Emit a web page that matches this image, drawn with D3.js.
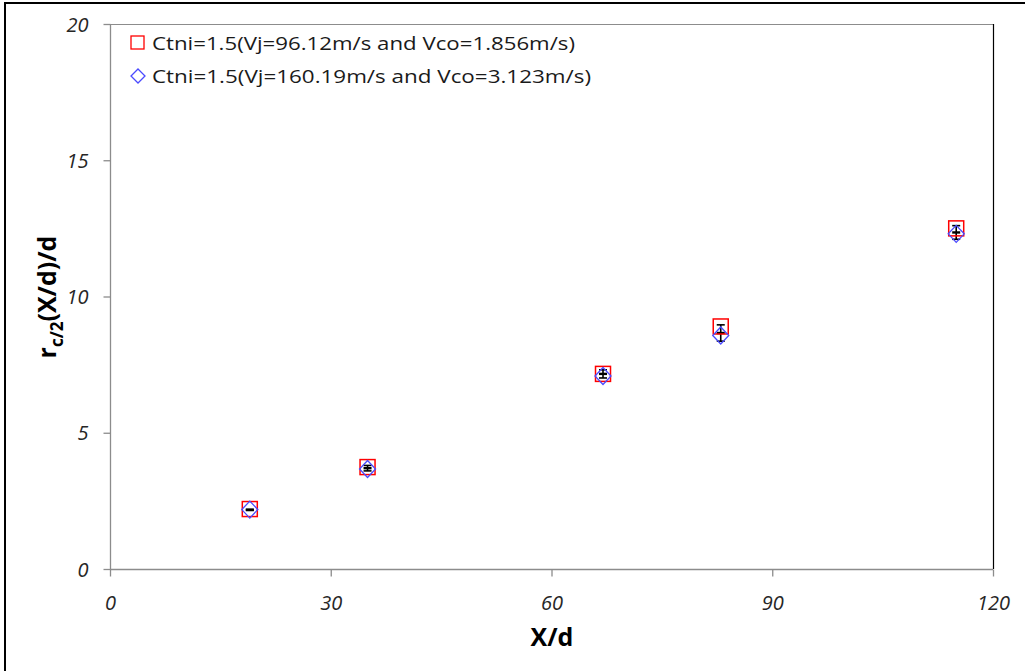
<!DOCTYPE html>
<html>
<head>
<meta charset="utf-8">
<script src="https://cdn.jsdelivr.net/npm/d3@7"></script>
<style>
  html, body { margin: 0; padding: 0; background: #fff; }
  svg { display: block; }
  text { font-family: "Open Sans", "Noto Sans", sans-serif; }
</style>
</head>
<body>
<svg id="chart" width="1025" height="671"></svg>
<script>
// Measurement stations along the jet axis
const xOverD = [19, 35, 67, 83, 115];
// Half-radius r_c/2 / d for each jet/coflow velocity case
const caseLow = [2.20, 3.74, 7.16, 8.90, 12.50];   // Vj=96.12 m/s, Vco=1.856 m/s
const caseHigh = [2.18, 3.67, 7.08, 8.57, 12.30];  // Vj=160.19 m/s, Vco=3.123 m/s
// Mean value and spread shown as error bars
const errCenter = [2.17, 3.70, 7.16, 8.66, 12.35];
const errHalf = [0.02, 0.10, 0.15, 0.30, 0.25];

const xTicks = [0, 30, 60, 90, 120];
const yTicks = [0, 5, 10, 15, 20];
const legendLabels = [
  "Ctni=1.5(Vj=96.12m/s and Vco=1.856m/s)",
  "Ctni=1.5(Vj=160.19m/s and Vco=3.123m/s)"
];

const svg = d3.select("#chart");
const plot = { left: 110, right: 993, top: 24, bottom: 569 };

const x = d3.scaleLinear().domain([0, 120]).range([plot.left, plot.right]);
const y = d3.scaleLinear().domain([0, 20]).range([plot.bottom, plot.top]);

// Outer chart frame
svg.append("rect")
  .attr("x", 5).attr("y", 3).attr("width", 1040).attr("height", 700)
  .attr("fill", "none").attr("stroke", "#000").attr("stroke-width", 2);

// Plot area border: top gray, right black
svg.append("line")
  .attr("x1", plot.left).attr("x2", plot.right)
  .attr("y1", plot.top + 0.5).attr("y2", plot.top + 0.5)
  .attr("stroke", "#8c8c8c").attr("stroke-width", 1);
svg.append("line")
  .attr("x1", plot.right + 0.5).attr("x2", plot.right + 0.5)
  .attr("y1", plot.top).attr("y2", plot.bottom)
  .attr("stroke", "#000").attr("stroke-width", 1.2);

// Axes
const xAxis = d3.axisBottom(x).tickValues(xTicks).tickSize(7).tickFormat(d3.format("d"));
const yAxis = d3.axisLeft(y).tickValues(yTicks).tickSize(7).tickFormat(d3.format("d"));

const gx = svg.append("g").attr("transform", `translate(0,${plot.bottom + 0.5})`).call(xAxis);
const gy = svg.append("g").attr("transform", `translate(${plot.left + 0.5},0)`).call(yAxis);

[gx, gy].forEach(g => {
  g.select(".domain").attr("stroke", "#8c8c8c").attr("stroke-width", 1.3);
  g.selectAll(".tick line").attr("stroke", "#8c8c8c").attr("stroke-width", 1.3);
  g.selectAll(".tick text")
    .attr("fill", "#262626")
    .style("font-size", "20px")
    .style("font-style", "italic")
    .style("font-family", "'Open Sans', sans-serif");
});
gx.select(".domain").attr("d", `M${plot.left},0H${plot.right}`);
gy.select(".domain").attr("d", `M0,${plot.top}V${plot.bottom}`);
gx.selectAll(".tick text").attr("dy", "0").attr("y", 40);
gy.selectAll(".tick text").attr("x", -22).attr("dy", "0.35em");

// Axis titles
svg.append("text")
  .attr("x", 552).attr("y", 646)
  .attr("text-anchor", "middle")
  .style("font-size", "25px").style("font-weight", "bold")
  .attr("fill", "#000")
  .text("X/d");

const yTitle = svg.append("text")
  .attr("transform", "translate(56,297) rotate(-90)")
  .attr("text-anchor", "middle")
  .style("font-size", "25px").style("font-weight", "bold")
  .attr("fill", "#000");
yTitle.append("tspan").text("r");
yTitle.append("tspan").attr("dy", 7).style("font-size", "17px").text("c/2");
yTitle.append("tspan").attr("dy", -7).text("(X/d)/d");

// Error bars (black) with small center marks
const capW = 4;
const eb = svg.append("g").attr("stroke", "#000").attr("stroke-width", 1.6).attr("fill", "none");
xOverD.forEach((xv, i) => {
  const cx = x(xv);
  const y0 = y(errCenter[i] - errHalf[i]);
  const y1 = y(errCenter[i] + errHalf[i]);
  eb.append("line").attr("x1", cx).attr("x2", cx).attr("y1", y0).attr("y2", y1);
  eb.append("line").attr("x1", cx - capW).attr("x2", cx + capW).attr("y1", y0).attr("y2", y0);
  eb.append("line").attr("x1", cx - capW).attr("x2", cx + capW).attr("y1", y1).attr("y2", y1);
  eb.append("line").attr("x1", cx - capW).attr("x2", cx + capW)
    .attr("y1", y(errCenter[i])).attr("y2", y(errCenter[i])).attr("stroke-width", 2.4);
});

// Red squares
const sq = 15;
svg.append("g").selectAll("rect")
  .data(xOverD.map((d, i) => [d, caseLow[i]]))
  .join("rect")
  .attr("x", d => x(d[0]) - sq / 2)
  .attr("y", d => y(d[1]) - sq / 2)
  .attr("width", sq).attr("height", sq)
  .attr("fill", "none").attr("stroke", "#ff0000").attr("stroke-width", 1.5);

// Blue diamonds
const diamond = (cx, cy, rx, ry) => `M${cx},${cy - ry}L${cx + rx},${cy}L${cx},${cy + ry}L${cx - rx},${cy}Z`;
svg.append("g").selectAll("path")
  .data(xOverD.map((d, i) => [d, caseHigh[i]]))
  .join("path")
  .attr("d", d => diamond(x(d[0]), y(d[1]), 8, 8.5))
  .attr("fill", "none").attr("stroke", "#4a4aff").attr("stroke-width", 1.3);

// Legend
const lg = svg.append("g");
lg.append("rect").attr("x", 131).attr("y", 36).attr("width", 13).attr("height", 13)
  .attr("fill", "none").attr("stroke", "#ff0000").attr("stroke-width", 1.3);
lg.append("path").attr("d", diamond(138, 76, 7, 7))
  .attr("fill", "none").attr("stroke", "#4a4aff").attr("stroke-width", 1.3);
legendLabels.forEach((t, i) => {
  lg.append("text")
    .attr("x", 152).attr("y", 50 + i * 33)
    .attr("fill", "#1a1a1a")
    .style("font-size", "19px")
    .attr("textLength", i === 0 ? 423 : 439)
    .attr("lengthAdjust", "spacingAndGlyphs")
    .text(t);
});
</script>
</body>
</html>
